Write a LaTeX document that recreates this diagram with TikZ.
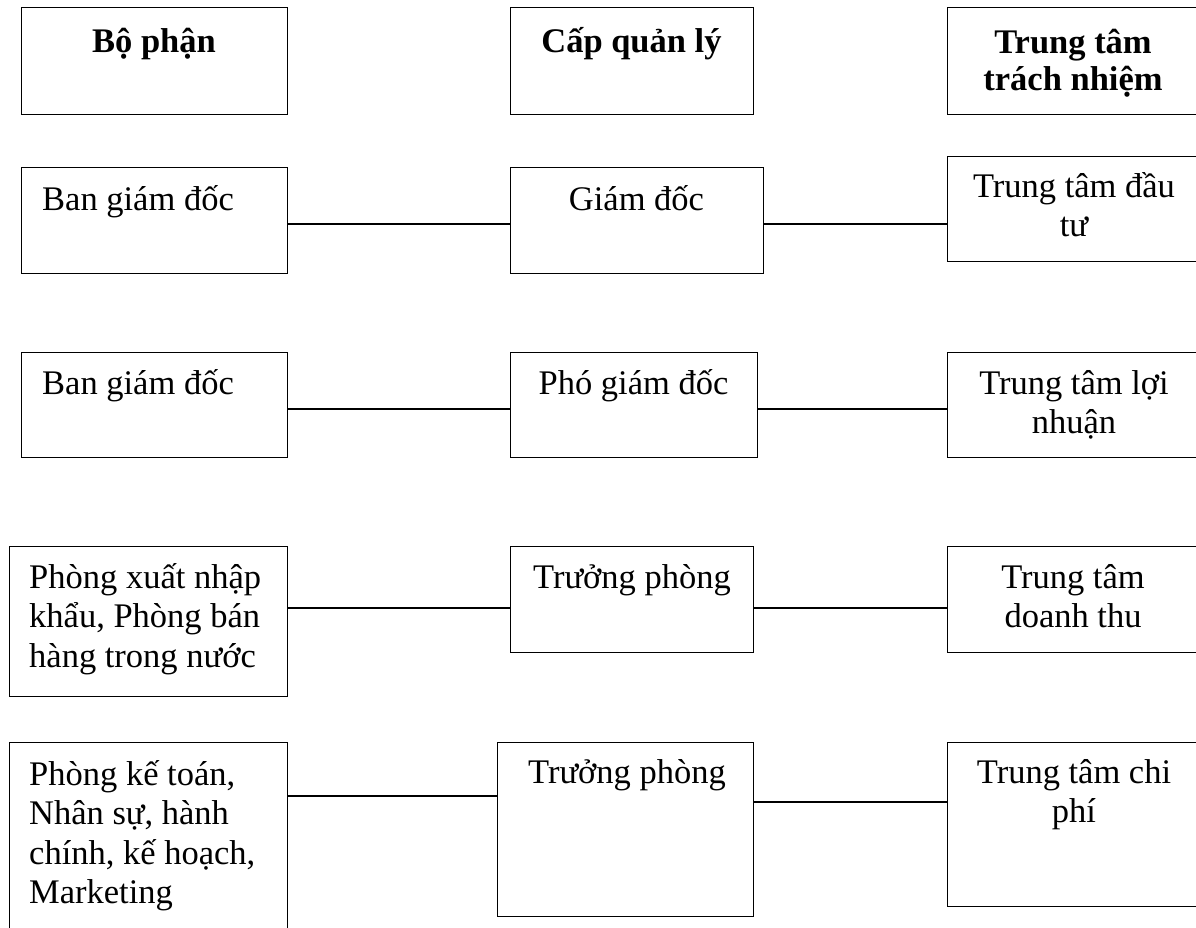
\documentclass[tikz,border=0pt]{standalone}
\usepackage{fontspec}
\setmainfont{Liberation Serif}
\begin{document}
\begin{tikzpicture}[x=1pt,y=-1pt,
  box/.style={draw=black, line width=1.3pt, fill=none, inner sep=0pt, anchor=north west},
  link/.style={draw=black, line width=1.3pt},
  txt/.style={inner sep=0pt, text width=270pt, font=\fontsize{34.5pt}{39.5pt}\selectfont},
  ctxt/.style={txt, align=flush center, anchor=base},
  ltxt/.style={txt, align=flush left, anchor=base west},
  htxt/.style={ctxt, font=\fontsize{34.5pt}{37pt}\selectfont\bfseries}]
\useasboundingbox (0,0) rectangle (1196,927);

% header row
\node[box, minimum width=266pt, minimum height=107pt] (h1) at (21,7) {};
\node[box, minimum width=243pt, minimum height=107pt] (h2) at (510,7) {};
\node[box, minimum width=254pt, minimum height=107pt] (h3) at (947,7) {};
\node[htxt] (th1) at (154,52) {Bộ phận};
\node[htxt] (th2) at (631.5,52) {Cấp quản lý};
\node[htxt] (th3) at (1073,53) {Trung tâm\\trách nhiệm};

% row 1
\node[box, minimum width=266pt, minimum height=106pt] (l1) at (21,167) {};
\node[box, minimum width=253pt, minimum height=106pt] (m1) at (510,167) {};
\node[box, minimum width=254pt, minimum height=105pt] (r1) at (947,156) {};
\node[ltxt] (tl1) at (42,210) {Ban giám đốc};
\node[ctxt] (tm1) at (636.5,210) {Giám đốc};
\node[ctxt] (tr1) at (1074,197) {\fontsize{34.5pt}{41pt}\selectfont Trung tâm đầu\\tư};
\draw[link] (l1.east |- 0,224) -- (m1.west |- 0,224);
\draw[link] (m1.east |- 0,224) -- (r1.west |- 0,224);

% row 2
\node[box, minimum width=266pt, minimum height=105pt] (l2) at (21,352) {};
\node[box, minimum width=247pt, minimum height=105pt] (m2) at (510,352) {};
\node[box, minimum width=254pt, minimum height=105pt] (r2) at (947,352) {};
\node[ltxt] (tl2) at (42,394) {Ban giám đốc};
\node[ctxt] (tm2) at (633.5,394) {Phó giám đốc};
\node[ctxt] (tr2) at (1074,394) {Trung tâm lợi\\nhuận};
\draw[link] (l2.east |- 0,409) -- (m2.west |- 0,409);
\draw[link] (m2.east |- 0,409) -- (r2.west |- 0,409);

% row 3
\node[box, minimum width=278pt, minimum height=150pt] (l3) at (9,546) {};
\node[box, minimum width=243pt, minimum height=106pt] (m3) at (510,546) {};
\node[box, minimum width=254pt, minimum height=106pt] (r3) at (947,546) {};
\node[ltxt] (tl3) at (29,588) {Phòng xuất nhập\\khẩu, Phòng bán\\hàng trong nước};
\node[ctxt] (tm3) at (632,588) {Trưởng phòng};
\node[ctxt] (tr3) at (1073,588) {Trung tâm\\doanh thu};
\draw[link] (l3.east |- 0,608) -- (m3.west |- 0,608);
\draw[link] (m3.east |- 0,608) -- (r3.west |- 0,608);

% row 4
\node[box, minimum width=278pt, minimum height=200pt] (l4) at (9,742) {};
\node[box, minimum width=256pt, minimum height=174pt] (m4) at (497,742) {};
\node[box, minimum width=254pt, minimum height=164pt] (r4) at (947,742) {};
\node[ltxt] (tl4) at (29,785) {Phòng kế toán,\\Nhân sự, hành\\chính, kế hoạch,\\Marketing};
\node[ctxt] (tm4) at (627,783) {Trưởng phòng};
\node[ctxt] (tr4) at (1074,783) {Trung tâm chi\\phí};
\draw[link] (l4.east |- 0,796) -- (m4.west |- 0,796);
\draw[link] (m4.east |- 0,802) -- (r4.west |- 0,802);
\end{tikzpicture}
\end{document}
